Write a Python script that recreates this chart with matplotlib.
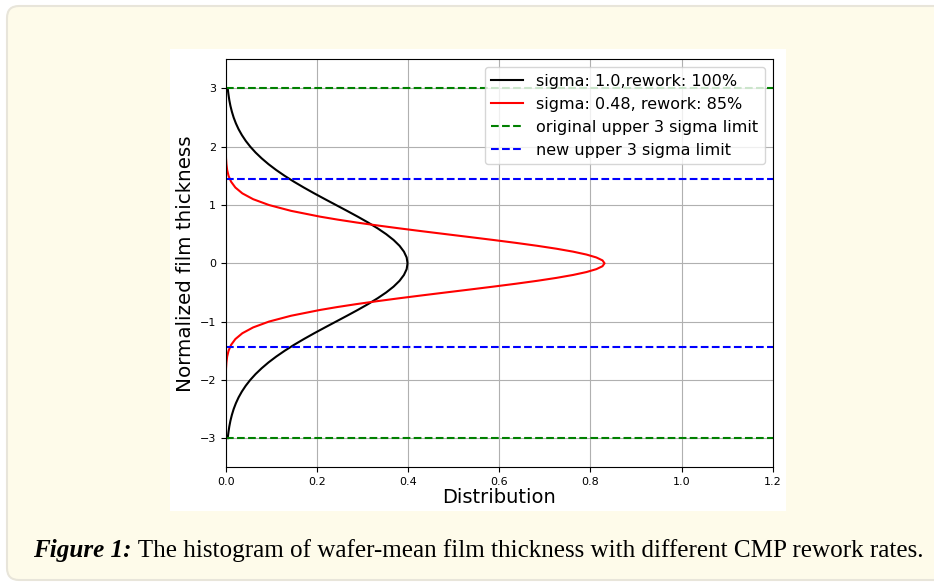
import numpy as np
import matplotlib
matplotlib.use("Agg")
import matplotlib.pyplot as plt
from matplotlib.patches import FancyBboxPatch, Rectangle
from matplotlib.transforms import IdentityTransform

# normalized film thickness, upper half (curves are symmetric about 0)
thickness_half = [0.0, 0.1, 0.2, 0.3, 0.4, 0.5, 0.6, 0.7, 0.8, 0.9, 1.0,
                  1.1, 1.2, 1.3, 1.4, 1.5, 1.6, 1.7, 1.8, 1.9, 2.0,
                  2.1, 2.2, 2.3, 2.4, 2.5, 2.6, 2.7, 2.8, 2.9, 3.0]
# distribution at those thickness values
dist_sigma_100 = [0.3989, 0.3970, 0.3910, 0.3814, 0.3683, 0.3521, 0.3332, 0.3123,
                  0.2897, 0.2661, 0.2420, 0.2179, 0.1942, 0.1714, 0.1497, 0.1295,
                  0.1109, 0.0940, 0.0790, 0.0656, 0.0540, 0.0440, 0.0355, 0.0283,
                  0.0224, 0.0175, 0.0136, 0.0104, 0.0079, 0.0060, 0.0044]

# the narrow curve is read more densely around its peak
thickness_half_narrow = [0.0, 0.05, 0.1, 0.15, 0.2, 0.25, 0.3, 0.35, 0.4, 0.45, 0.5,
                         0.55, 0.6, 0.65, 0.7, 0.75, 0.8, 0.9, 1.0, 1.1, 1.2,
                         1.3, 1.4, 1.5, 1.6, 1.7, 1.8, 1.9, 2.0, 2.5, 3.0]
dist_sigma_048 = [0.8311, 0.8266, 0.8132, 0.7915, 0.7620, 0.7257, 0.6837, 0.6371,
                  0.5873, 0.5356, 0.4831, 0.4311, 0.3805, 0.3322, 0.2870, 0.2452,
                  0.2073, 0.1433, 0.0949, 0.0602, 0.0365, 0.0212, 0.0118, 0.0063,
                  0.0032, 0.0016, 0.0007, 0.0003, 0.0001, 0.0, 0.0]

labels = ["sigma: 1.0,rework: 100%", "sigma: 0.48, rework: 85%"]
old_limit = 3.0
new_limit = 1.44

caption_bold = "Figure 1:"
caption_rest = " The histogram of wafer-mean film thickness with different CMP rework rates."


def mirror(half, negate=False):
    half = np.asarray(half, dtype=float)
    lower = -half[:0:-1] if negate else half[:0:-1]
    return np.concatenate([lower, half])


W, H = 934, 584
fig = plt.figure(figsize=(W / 100, H / 100), dpi=100, facecolor="white")

# page-like background panel and white figure area (kept behind the axes)
panel = FancyBboxPatch((7, 4), 960, 574, boxstyle="round,pad=0,rounding_size=12",
                       transform=IdentityTransform(), facecolor="#fefbea",
                       edgecolor="#e8e5da", linewidth=1.5, zorder=-10)
fig.patches.append(panel)
fig.patches.append(Rectangle((170, H - 511), 616, 462, transform=IdentityTransform(),
                             facecolor="white", edgecolor="none", zorder=-9))

ax = fig.add_axes([225.7 / W, (H - 467.3) / H, 547.0 / W, 408.0 / H])
ax.plot(mirror(dist_sigma_100), mirror(thickness_half, True), color="k", lw=1.5,
        label=labels[0])
ax.plot(mirror(dist_sigma_048), mirror(thickness_half_narrow, True), color="r", lw=1.5,
        label=labels[1])
ax.axhline(old_limit, color="g", ls="--", lw=1.5, label="original upper 3 sigma limit")
ax.axhline(new_limit, color="b", ls="--", lw=1.5, label="new upper 3 sigma limit")
ax.axhline(-old_limit, color="g", ls="--", lw=1.5)
ax.axhline(-new_limit, color="b", ls="--", lw=1.5)

ax.set_xlim(0, 1.2)
ax.set_ylim(-3.5, 3.5)
ax.set_xticks([0.0, 0.2, 0.4, 0.6, 0.8, 1.0, 1.2])
ax.set_yticks([-3, -2, -1, 0, 1, 2, 3])
ax.tick_params(labelsize=8)
ax.grid(True, color="#b0b0b0", lw=0.8)
ax.set_xlabel("Distribution", fontsize=14, labelpad=1)
ax.set_ylabel("Normalized film thickness", fontsize=14.3, labelpad=3)
ax.legend(loc="upper right", fontsize=11.5)

# caption, fitted to the page width
x0, x1, base = 33, 922.5, H - 557
fs = 16
for _ in range(3):
    for t in list(fig.texts):
        t.remove()
    t1 = fig.text(x0 / W, base / H, caption_bold, fontsize=fs, family="Liberation Serif",
                  weight="bold", style="italic", va="baseline")
    fig.canvas.draw()
    r = fig.canvas.get_renderer()
    e1 = t1.get_window_extent(r)
    t2 = fig.text(e1.x1 / W, base / H, caption_rest, fontsize=fs, family="Liberation Serif",
                  va="baseline")
    fig.canvas.draw()
    e2 = t2.get_window_extent(r)
    fs *= (x1 - x0) / (e2.x1 - x0)

fig.savefig("out.png", dpi=100)
